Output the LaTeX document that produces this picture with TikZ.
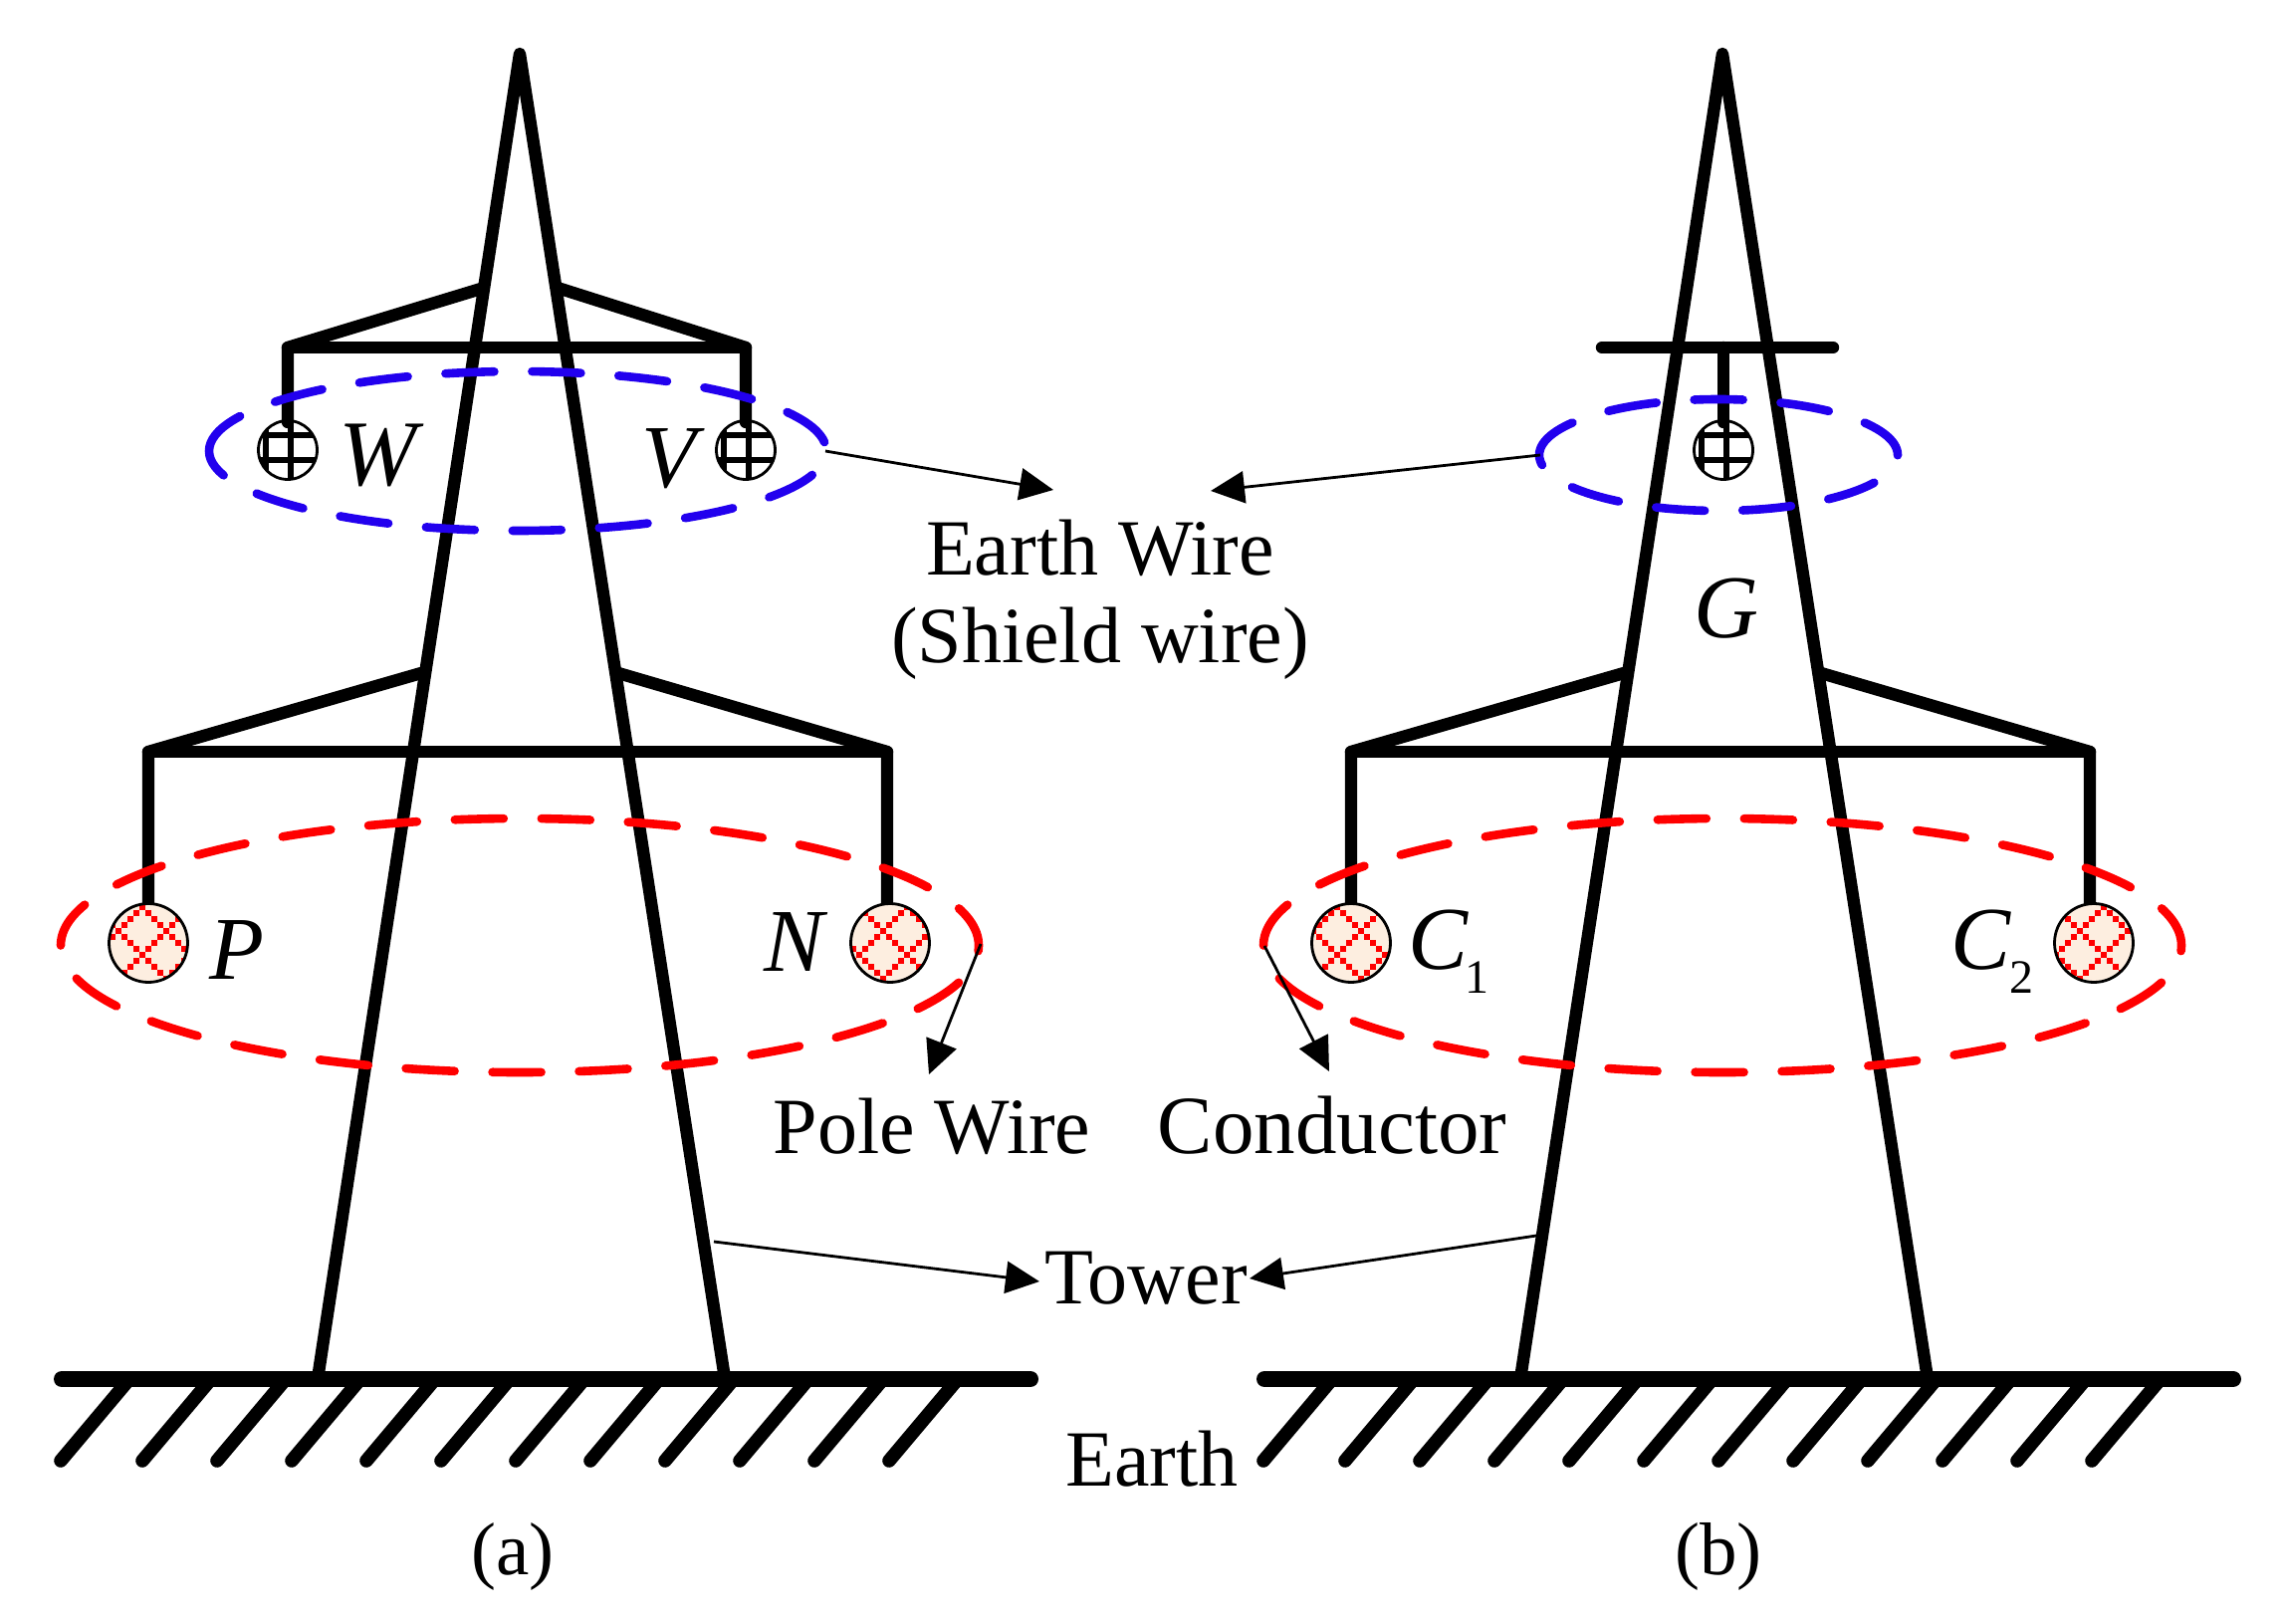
\documentclass[tikz,border=0pt]{standalone}
\usepackage{fontspec}
\setmainfont{Liberation Serif}
\usetikzlibrary{arrows.meta}
\definecolor{rw}{RGB}{255,0,0}
\definecolor{bw}{RGB}{34,0,238}
\definecolor{cfill}{RGB}{253,238,224}
\tikzset{
  x=0.5pt,y=-0.5pt,
  steel/.style={line width=6.2pt,line cap=round,line join=round,black},
  groundline/.style={line width=8pt,line cap=round,black},
  hatchline/.style={line width=6.8pt,line cap=round,black},
  ringred/.style={line width=4.3pt,line cap=round,rw,dash pattern=on 24.5pt off 19pt},
  ringblue/.style={line width=4.3pt,line cap=round,bw,dash pattern=on 24.5pt off 19pt},
  callout/.style={line width=1.4pt,black,-{Triangle[length=17pt,width=16pt]},shorten >=0pt},
  lab/.style={inner sep=0pt,font=\fontsize{40}{44}\selectfont,anchor=base},
  varlab/.style={inner sep=0pt,font=\fontsize{45}{50}\selectfont\itshape,anchor=base},
  subslab/.style={inner sep=0pt,font=\fontsize{45}{50}\selectfont,anchor=base west},
}
\newcommand{\polewire}[5]{% name, cx, cy, dx, dy of lattice
  \begin{scope}
    \clip (#2,#3) circle[radius=39];
    \fill[cfill] (#2,#3) circle[radius=39];
    \foreach \kk in {-2,...,2}{
      \foreach \ii in {-8,...,8}{
        \fill[rw] ({#2+#4+6*\ii-2.8},{#3+#5+6*(\ii+8*\kk)-2.8}) rectangle ++(5.6,5.6);
        \fill[rw] ({#2+#4+6*\ii-2.8},{#3+#5+6*(-\ii+8*\kk)-2.8}) rectangle ++(5.6,5.6);
      }
    }
  \end{scope}
  \node[circle,draw=black,line width=1.4pt,minimum size=39.5pt,inner sep=0pt] (#1) at (#2,#3) {};
}
\newcommand{\earthwire}[3]{% name, cx, cy
  \begin{scope}
    \clip (#2,#3) circle[radius=29];
    \draw[line width=2.8pt,black]
      ({#2-22},{#3-40}) -- ({#2-22},{#3+40})
      ({#2+3},{#3-40}) -- ({#2+3},{#3+40})
      ({#2-40},{#3-15}) -- ({#2+40},{#3-15})
      ({#2-40},{#3+10}) -- ({#2+40},{#3+10});
  \end{scope}
  \node[circle,draw=black,line width=1.4pt,minimum size=29.5pt,inner sep=0pt] (#1) at (#2,#3) {};
}
\begin{document}
\begin{tikzpicture}
\useasboundingbox (0,0) rectangle (2293,1631);
% hatching and ground
\foreach \ox/\nm in {0/a,1208/b}{
  \begin{scope}[xshift=\ox*0.5pt]
    \foreach \hx in {61,143,218,293,368,443,518,593,668,743,818,893}{
      \draw[hatchline] (\hx+69,1385) -- (\hx,1467);
    }
    \coordinate (gl\nm) at (62,1385);
    \coordinate (gr\nm) at (1035,1385);
    \draw[groundline] (gl\nm) -- (gr\nm);
    % tower
    \coordinate (apex\nm) at (522,54);
    \coordinate (bl\nm) at (319,1385);
    \coordinate (br\nm) at (727,1378);
    \draw[steel] (bl\nm) -- (apex\nm) -- (br\nm);
    % lower cross arm
    \coordinate (la\nm) at (149,755);
    \coordinate (ra\nm) at (891,755);
    \coordinate (ls\nm) at (423,676);
    \coordinate (rs\nm) at (621,676);
    \coordinate (ld\nm) at (149,908);
    \coordinate (rd\nm) at (891,908);
    \draw[steel] (ld\nm) -- (la\nm) -- (ls\nm);
    \draw[steel] (rd\nm) -- (ra\nm) -- (rs\nm);
    \draw[steel] (la\nm) -- (ra\nm);
  \end{scope}
}
% upper arm, left tower
\coordinate (ula) at (289,349);
\coordinate (ura) at (749,349);
\coordinate (usl) at (483,290);
\coordinate (usr) at (563,290);
\coordinate (udl) at (289,424);
\coordinate (udr) at (749,424);
\draw[steel] (udl) -- (ula) -- (usl);
\draw[steel] (udr) -- (ura) -- (usr);
\draw[steel] (ula) -- (ura);
% crossbar, right tower
\coordinate (xbl) at (1609,349);
\coordinate (xbr) at (1841,349);
\coordinate (xbt) at (1731,349);
\coordinate (xbd) at (1731,424);
\draw[steel] (xbl) -- (xbr);
\draw[steel] (xbt) -- (xbd);
% wires
\earthwire{wW}{289}{452}
\earthwire{wV}{749}{452}
\earthwire{wG}{1731}{452}
\polewire{wP}{149}{947}{-6}{12}
\polewire{wN}{894}{947}{-7}{-12}
\polewire{wCa}{1357}{947}{-14}{12}
\polewire{wCb}{2103}{947}{-14}{-12}
% rings
\coordinate (rr1) at (61,949.5);
\coordinate (rr2) at (1269,949.5);
\coordinate (br1) at (210,453);
\coordinate (br2) at (1546,457);
\draw[ringred] (rr1) arc[start angle=180,delta angle=360,x radius=461,y radius=127.5];
\draw[ringred] (rr2) arc[start angle=180,delta angle=360,x radius=461,y radius=127.5];
\draw[ringblue] (br1) arc[start angle=180,delta angle=360,x radius=310,y radius=80];
\draw[ringblue] (br2) arc[start angle=180,delta angle=360,x radius=180,y radius=56];
% labels
\node[varlab,font=\fontsize{47}{50}\selectfont\itshape] (lW) at (380,488) {W};
\node[varlab] (lV) at (672,490) {V};
\node[varlab] (lP) at (238,983) {P};
\node[varlab] (lN) at (798,975) {N};
\node[varlab] (lG) at (1734,640) {G};
\node[subslab] (lC1) at (1414,973) {\textit{C}\kern-2pt\raisebox{-12pt}{\fontsize{24}{26}\selectfont 1}};
\node[subslab] (lC2) at (1959,973) {\textit{C}\kern-1pt\raisebox{-12pt}{\fontsize{24}{26}\selectfont 2}};
\node[lab,anchor=center,align=center] (earthw) at (1105,602) {Earth Wire\\(Shield wire)};
\node[lab] (pole) at (936,1158) {Pole Wire};
\node[lab,font=\fontsize{41.5}{44}\selectfont] (cond) at (1338,1158) {Conductor};
\node[lab] (tower) at (1151,1309) {Tower};
\node[lab] (earth) at (1157,1492) {Earth};
\node[lab,font=\fontsize{37.5}{44}\selectfont] (capa) at (515,1581) {(a)};
\node[lab,font=\fontsize{37.5}{44}\selectfont] (capb) at (1726,1581) {(b)};
% callouts
\coordinate (c1s) at (829,453);  \coordinate (c1e) at (1058,492);
\coordinate (c2s) at (1547,457); \coordinate (c2e) at (1216,493);
\coordinate (c3s) at (985,948);  \coordinate (c3e) at (933,1079);
\coordinate (c4s) at (1270,950); \coordinate (c4e) at (1335,1076);
\coordinate (c5s) at (717,1247); \coordinate (c5e) at (1044,1287);
\coordinate (c6s) at (1543,1241);\coordinate (c6e) at (1255,1284);
\foreach \k in {1,...,6}{ \draw[callout] (c\k s) -- (c\k e); }
\end{tikzpicture}
\end{document}
